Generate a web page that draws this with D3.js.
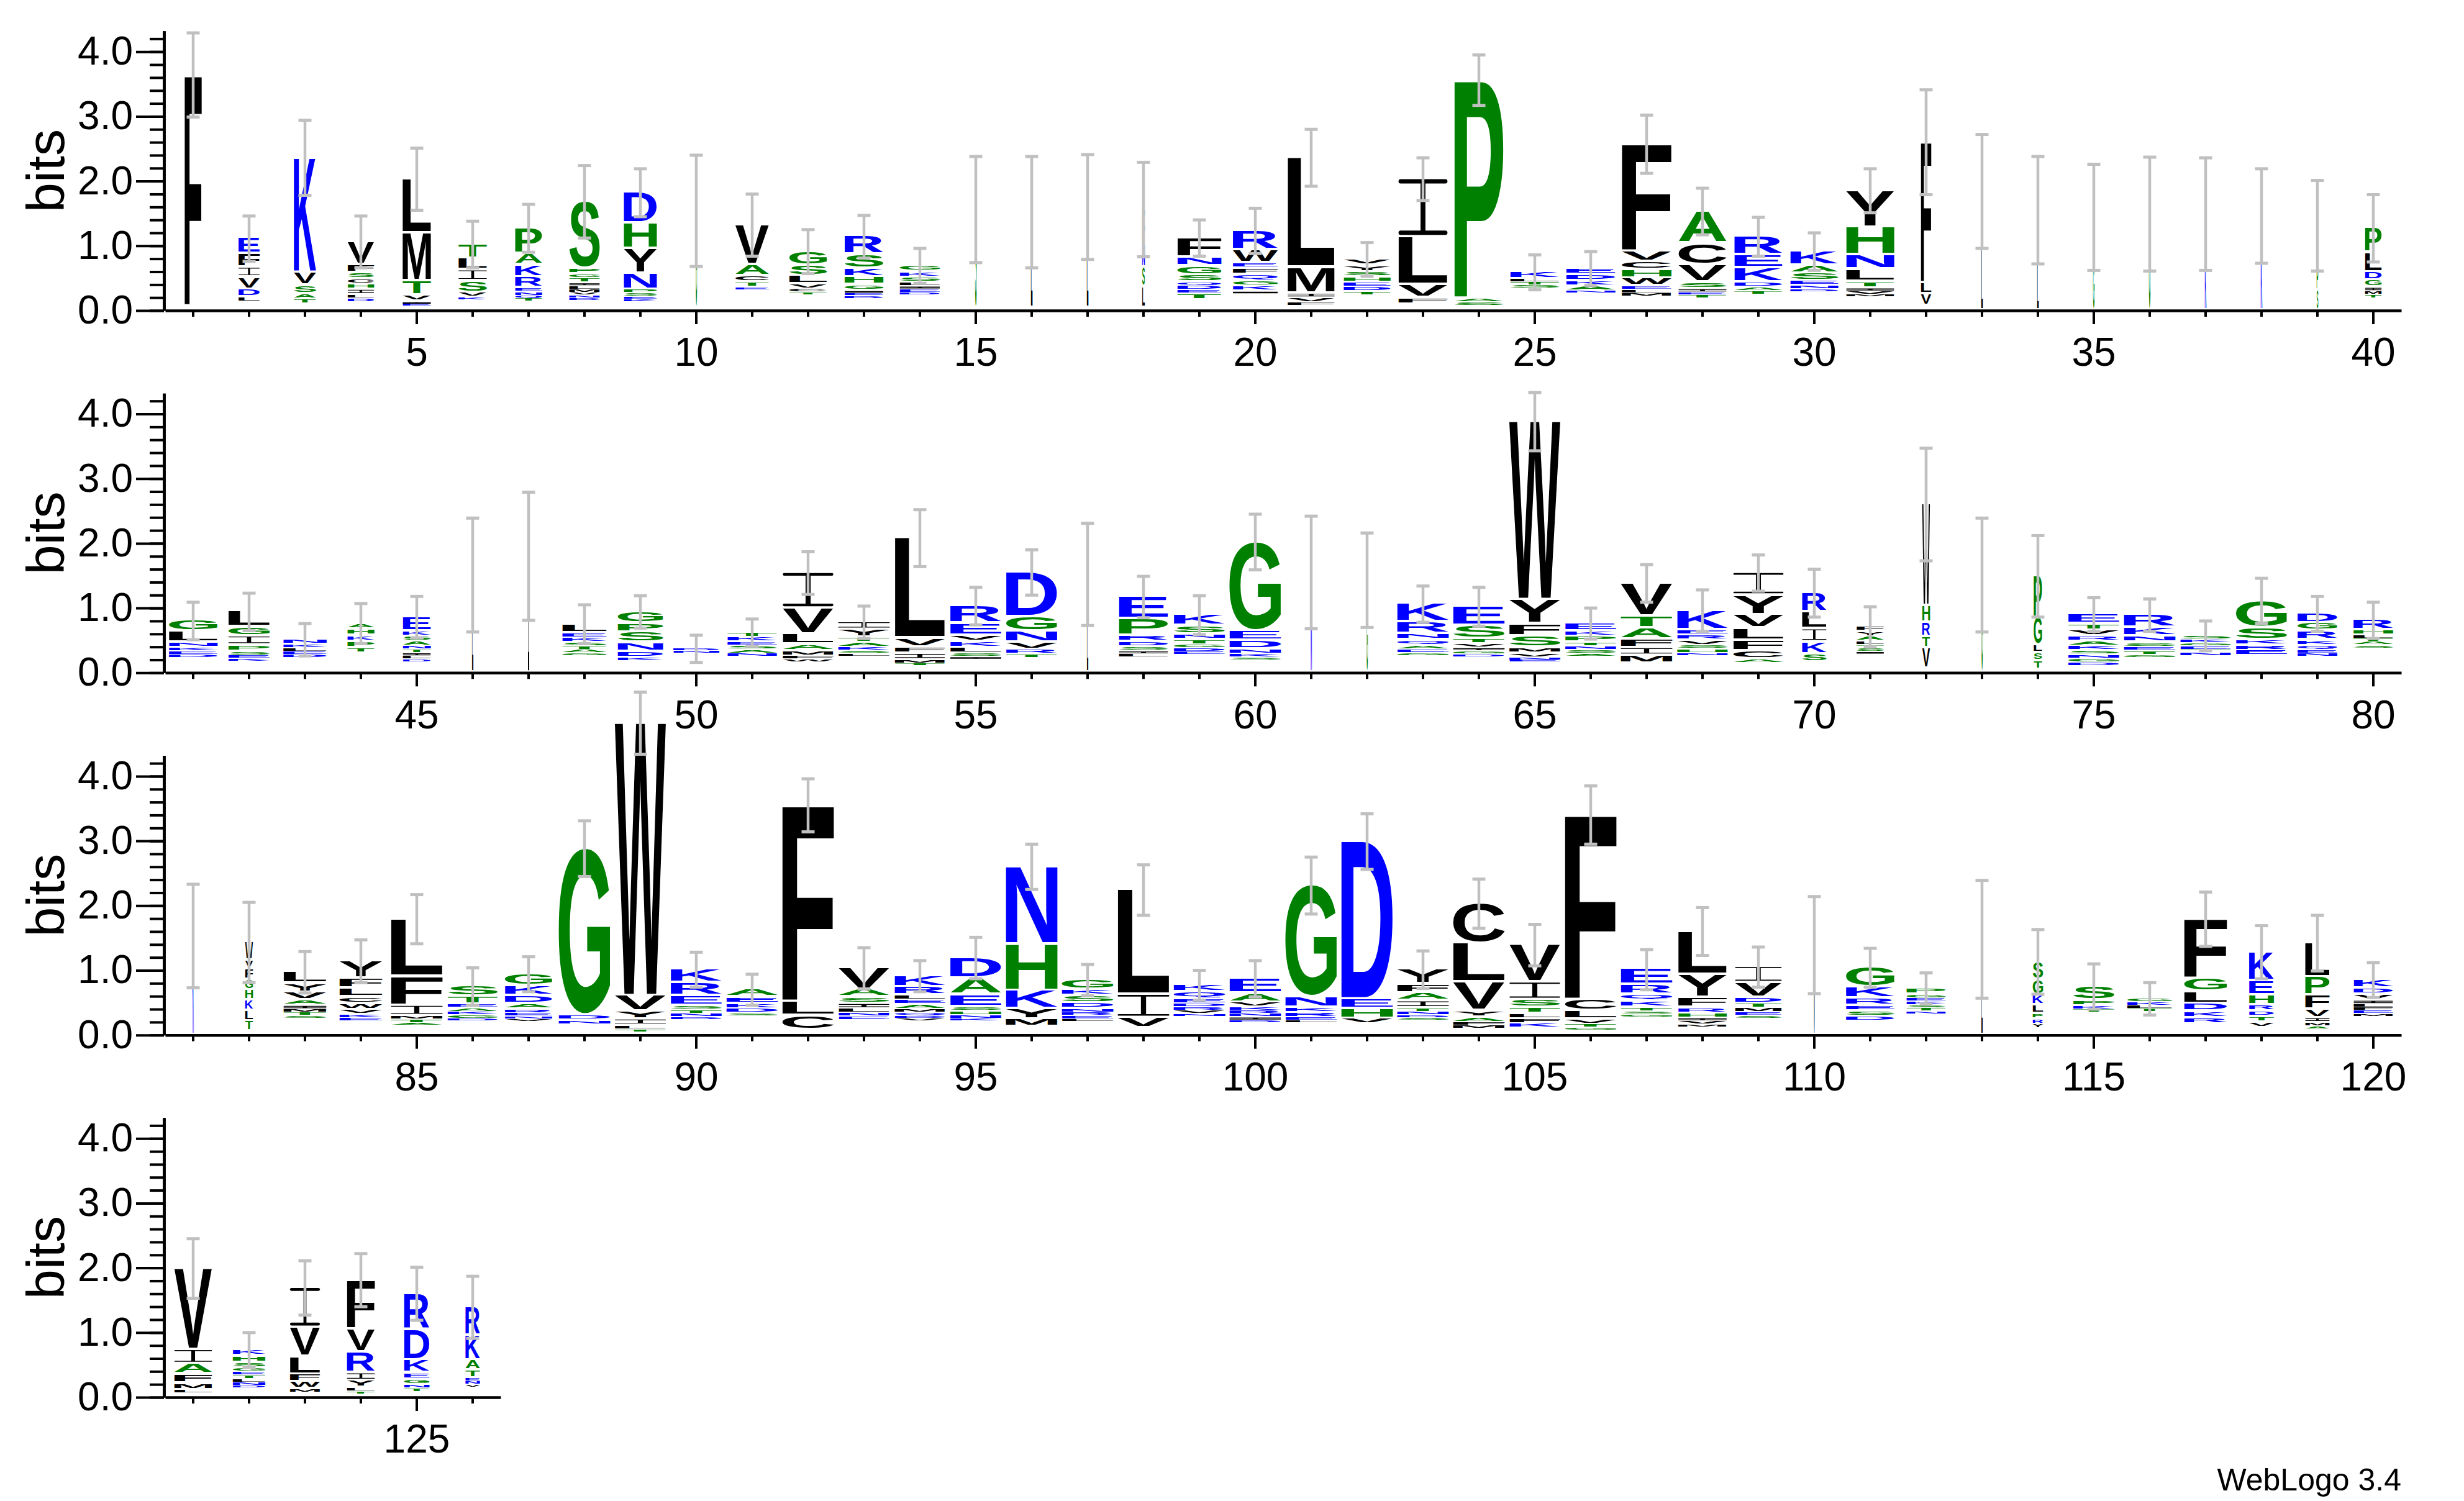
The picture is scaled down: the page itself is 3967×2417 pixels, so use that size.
<!DOCTYPE html>
<html>
<head>
<meta charset="utf-8">
<script src="https://cdn.jsdelivr.net/npm/d3@7"></script>
<style>
body { margin: 0; background: #fff; }
svg { display: block; }
</style>
</head>
<body>
<div id="logo"></div>
<script>

// positions 1..126, letters listed top to bottom, "_" = tiny letters not drawn
var positions = d3.range(1, 127);

var stackLetters = [
  "F_", "EFIVDL_", "KVSAT_", "VFSCHILD_", "LMTVIE_", "TLISVK_", "PAKRENQT_", "SPGTILMVND_", "DHYNPSEK_", "G_",
  "VACTE_", "GSLVCT_", "RSKHGIED_", "GKSLIED_", "DS_", "L_", "KL_", "FNSL_", "FNGSQDET_", "RWEFQGKI_",
  "LMIVF_", "VYSHEDT_", "ILVF_", "PAS_", "KLTS_", "EDKAN_", "FVCHWELM_", "ACVSIET_", "REKDAT_", "KASEND_",
  "YHNLTIVM_", "FLV_", "GL", "SL", "LG", "G", "VK", "NK", "IPS", "PLDGIMT_",
  "GLNKED_", "LGIPSEK_", "NKLED_", "AHKPT_", "EKSANTILD_", "L", "L", "LEKSTAG_", "GPSNDK_", "DN_",
  "TKESAN_", "IVLAMFW_", "IYTAKSL_", "LVFIMT_", "REVKLSI_", "DGNVRT_", "NL", "EPRDSIL_", "KSNTGDE_", "GEDNKS_",
  "N", "KG", "KRNQAEG_", "ESTVIGD_", "WYFSMVNE_", "EKPTNSA_", "VTAFIM_", "KERVSHN_", "IYVLFCA_", "RLIKS_",
  "FYALTSI_", "WHRTV_", "G", "PGLST_", "ETVRAKSNGD_", "RKNSETG_", "SKGETN_", "GSKRE_", "DGRKQEN_", "RHLTAS_",
  "K", "WVFGHKLT_", "LYVAIMTS_", "YFLCWVKE_", "LFIMTA_", "STEAKGD_", "GKDARENV_", "GDN_", "WVYILT_", "KRESTND_",
  "AEKDS_", "FLC_", "VASILNE_", "KRLEAMQDV_", "DAESHNK_", "NHKYM_", "GKSDNREL_", "LIV_", "KQEDRVN_", "EAVKRNID_",
  "GNKREL_", "DEHV_", "YFAITNDS_", "CLVYAFM_", "VISTLFK_", "FCLVTG_", "ERQKTSG_", "LYFRHIVM_", "IVDTMES_", "SV",
  "GKRESD_", "PGEKSTN_", "L", "SGKLPRY_", "SPKT_", "GKLT_", "FGLDKR_", "KEHRDTV_", "LPFVIMA_", "KDVILFEM_",
  "VIAFML_", "KHSGETLND_", "IVLFWM_", "FVRIYLT_", "RDKEGNT_", "RKATENV_"
];

var stackHeights = [
  [3.58,.06], [.24,.21,.15,.19,.12,.08,.12], [1.78,.2,.13,.08,.08,.09], [.36,.12,.1,.08,.08,.08,.06,.06,.12],
  [.84,.74,.22,.1,.04,.03,.06], [.22,.18,.17,.18,.07,.04,.16], [.4,.17,.19,.17,.06,.06,.04,.05,.13],
  [1.04,.08,.07,.07,.05,.05,.05,.04,.04,.04,.15], [.48,.39,.38,.25,.06,.05,.04,.04,.13], [1.5,.04],
  [.62,.17,.1,.08,.04,.31], [.22,.16,.13,.07,.06,.04,.23], [.28,.22,.13,.12,.09,.04,.04,.04,.18],
  [.1,.08,.08,.06,.05,.05,.04,.23], [.1,1.42,.04], [1.48,.04], [.1,1.46,.04], [.55,.35,.3,.32,.04],
  [.3,.14,.14,.11,.05,.07,.06,.1,.15], [.3,.2,.08,.1,.1,.08,.08,.04,.25],
  [1.7,.4,.07,.07,.05,.07], [.1,.1,.08,.08,.07,.07,.06,.23], [.9,.74,.2,.1,.09], [3.38,.06,.06,.06],
  [.11,.05,.05,.05,.33], [.1,.1,.08,.07,.04,.26], [1.66,.16,.13,.13,.12,.06,.05,.05,.21],
  [.5,.33,.27,.1,.06,.04,.05,.18], [.29,.2,.22,.08,.06,.05,.24], [.22,.12,.12,.07,.06,.04,.28],
  [.57,.43,.22,.19,.1,.05,.05,.04,.2], [2.18,.17,.18,.07], [.9,.94], [.85,.7], [.7,.74], [1.49],
  [.75,.74], [.6,.86], [.6,.4,.31], [.38,.3,.13,.11,.06,.05,.06,.18],
  [.17,.17,.08,.06,.05,.05,.22], [.24,.14,.14,.1,.06,.05,.04,.17], [.08,.06,.05,.05,.05,.22],
  [.09,.1,.09,.1,.08,.3], [.22,.08,.08,.07,.06,.05,.05,.05,.04,.16], [1.51], [1.8],
  [.14,.08,.07,.06,.05,.05,.04,.26], [.18,.14,.16,.14,.09,.06,.17], [.04,.04,.29],
  [.08,.07,.06,.06,.06,.05,.24], [.55,.4,.16,.1,.08,.05,.04,.16], [.12,.12,.08,.07,.05,.05,.04,.25],
  [1.55,.14,.1,.1,.05,.04,.1], [.27,.19,.1,.09,.09,.05,.04,.2], [.69,.23,.17,.11,.07,.06,.22], [.3,1.22],
  [.34,.26,.1,.08,.06,.05,.05,.23], [.17,.13,.09,.07,.06,.05,.05,.27], [1.38,.15,.13,.08,.05,.04,.19],
  [1.55], [.35,1.08], [.28,.18,.1,.09,.06,.05,.05,.25], [.3,.2,.08,.06,.05,.05,.04,.24],
  [2.76,.37,.19,.18,.09,.06,.04,.03,.16], [.12,.08,.1,.06,.06,.05,.04,.25], [.51,.19,.17,.13,.12,.12,.14],
  [.3,.08,.09,.07,.06,.06,.04,.26], [.35,.3,.21,.19,.16,.13,.05,.15], [.3,.26,.2,.19,.12,.16],
  [.08,.08,.07,.06,.05,.05,.04,.28], [1.57,.26,.22,.17,.32,.06], [1.51], [.64,.43,.12,.13,.13,.04],
  [.15,.1,.09,.08,.07,.07,.07,.06,.06,.05,.1], [.2,.13,.1,.07,.06,.06,.05,.22], [.07,.05,.05,.05,.05,.05,.25],
  [.42,.19,.08,.08,.09,.25], [.15,.12,.14,.09,.07,.05,.05,.24], [.16,.07,.06,.05,.05,.05,.37],
  [1.53], [.28,.14,.16,.16,.16,.16,.16,.16,.05], [.18,.14,.12,.08,.06,.05,.05,.04,.25],
  [.27,.15,.14,.1,.1,.07,.05,.05,.21], [.89,.45,.16,.06,.05,.04,.14], [.16,.12,.06,.06,.05,.05,.04,.21],
  [.19,.15,.12,.09,.06,.05,.04,.04,.2], [2.58,.08,.06,.16], [4.22,.24,.12,.1,.06,.04,.04],
  [.21,.2,.15,.07,.06,.05,.04,.23],
  [.12,.1,.08,.07,.05,.28], [3.04,.22,.22,.07], [.33,.12,.1,.08,.07,.05,.05,.23],
  [.17,.13,.07,.08,.07,.05,.05,.04,.03,.22], [.32,.25,.19,.07,.06,.05,.04,.21], [1.2,.72,.28,.16,.12,.12],
  [.15,.1,.11,.09,.06,.05,.05,.04,.2], [1.62,.36,.16,.1], [.11,.11,.07,.06,.05,.05,.04,.28],
  [.23,.14,.07,.06,.05,.05,.05,.04,.18],
  [1.73,.16,.08,.07,.05,.04,.18], [2.44,.15,.15,.09,.16], [.23,.14,.12,.11,.06,.05,.04,.04,.22],
  [.62,.6,.44,.1,.08,.05,.05,.09], [.58,.27,.12,.1,.08,.07,.07,.1], [2.86,.17,.13,.08,.05,.04,.07],
  [.24,.15,.1,.1,.06,.05,.04,.27], [.67,.36,.15,.09,.07,.05,.05,.04,.12], [.25,.23,.09,.07,.07,.05,.04,.25],
  [.4,.99],
  [.31,.17,.11,.09,.08,.07,.21], [.1,.06,.05,.05,.05,.05,.04,.32], [1.48], [.28,.24,.15,.14,.08,.08,.07,.09],
  [.22,.09,.05,.05,.34], [.06,.05,.05,.05,.35], [.92,.2,.19,.12,.1,.1,.16], [.45,.22,.15,.1,.08,.09,.08,.11],
  [.53,.28,.22,.13,.07,.06,.04,.09], [.13,.1,.09,.06,.05,.05,.05,.04,.28],
  [1.26,.22,.16,.14,.1,.05,.06], [.1,.1,.08,.06,.06,.06,.05,.05,.03,.14], [.62,.45,.27,.12,.11,.05,.07],
  [.76,.36,.32,.12,.11,.06,.04,.04], [.56,.47,.2,.1,.08,.06,.05,.08], [.44,.38,.16,.12,.05,.05,.04,.15]
];

// stack width as a fraction of a full column (gap-weighted)
var stackWidths = [
  .33,.41,.43,.51,.55,.55,.52,.59,.64,.02, .65,.73,.75,.78,.03,.03,.03,.05,.85,.87,
  .91,.91,.95,.95,.95,.95,.96,.93,.93,.93, .93,.2,.03,.03,.03,.03,.03,.03,.03,.32,
  .94,.8,.84,.52,.54,.02,.02,.86,.88,.89, .96,.98,1,.97,.99,.99,.02,.95,.99,1,
  .02,.02,1,1,.99,.99,1,.98,.97,.47, .53,.15,.02,.16,.99,1,.98,.99,.77,.77,
  .02,.15,.83,.83,1,.97,.92,1,.99,.99, 1,1,.98,.98,.99,1,1,1,1,1,
  1,1,1,1,.98,1,1,.94,.9,.02, .94,.76,.02,.2,.8,.87,.83,.48,.47,.76,
  .73,.63,.58,.54,.49,.28
];

// half length of the error bar, bits
var errorBars = [
  .65,.35,.58,.4,.48,.36,.37,.56,.37,.86, .48,.34,.33,.27,.82,.86,.81,.73,.28,.35,
  .44,.26,.33,.39,.27,.26,.45,.36,.3,.29, .34,.81,.88,.83,.82,.88,.87,.73,.7,.52,
  .29,.29,.25,.31,.32,.88,.99,.3,.25,.21, .21,.33,.25,.44,.29,.35,.79,.32,.3,.43,
  .87,.73,.28,.3,.45,.24,.29,.32,.28,.37, .31,.87,.88,.63,.26,.25,.23,.35,.27,.28,
  .8,.62,.32,.33,.38,.29,.27,.43,.48,.27, .24,.41,.32,.24,.32,.35,.24,.39,.23,.28,
  .44,.43,.29,.38,.32,.45,.31,.37,.31,.75, .3,.24,.91,.5,.35,.25,.42,.41,.43,.27,
  .46,.27,.42,.41,.41,.48
];

var yTicks = [0, 1, 2, 3, 4];

var width = 3967, height = 2417;
var perRow = 40, colWidth = 90, stackFull = 83;
var rowBase = [500, 1083.3, 1666.7, 2250];
var plotLeft = 266, pxPerBit = 104.2, maxBits = 4.32;

var colorOf = function(a) {
  if ("RKDENQ".indexOf(a) >= 0) return "#0000ff";
  if ("SGHTAP".indexOf(a) >= 0) return "#008000";
  return "#000000";
};

// ink box of each glyph, so letters can be stretched to fill their box
var ctx = document.createElement("canvas").getContext("2d");
var glyphs = {};
function glyph(a) {
  if (!glyphs[a]) {
    ctx.font = "bold 200px 'Liberation Sans'";
    var m = ctx.measureText(a);
    glyphs[a] = {l: m.actualBoundingBoxLeft, r: m.actualBoundingBoxRight,
                 a: m.actualBoundingBoxAscent, d: m.actualBoundingBoxDescent};
  }
  return glyphs[a];
}

// weblogo draws I with serifs: two bars and a thin stem
function drawI(g, x0, y0, w, h, col) {
  var bar = Math.max(1.2, Math.min(7, h * 0.08));
  var stem = Math.max(1.2, w * 0.1);
  g.append("rect").attr("x", x0).attr("y", y0).attr("width", w).attr("height", bar)
    .attr("rx", bar / 2).attr("fill", col);
  g.append("rect").attr("x", x0).attr("y", y0 + h - bar).attr("width", w).attr("height", bar)
    .attr("rx", bar / 2).attr("fill", col);
  g.append("rect").attr("x", x0 + w / 2 - stem / 2).attr("y", y0 + bar / 2).attr("width", stem)
    .attr("height", Math.max(0, h - bar)).attr("fill", col);
}

var svg = d3.select("#logo").append("svg")
  .attr("width", width)
  .attr("height", height)
  .style("background", "#fff");

d3.range(4).forEach(function(r) {
  var rowPos = positions.slice(r * perRow, (r + 1) * perRow);
  var base = rowBase[r];

  var x = d3.scaleBand()
    .domain(rowPos)
    .range([plotLeft, plotLeft + rowPos.length * colWidth]);

  var y = d3.scaleLinear()
    .domain([0, maxBits])
    .range([base, base - maxBits * pxPerBit]);

  var row = svg.append("g").attr("class", "row");

  // letter stacks
  rowPos.forEach(function(p) {
    var i = p - 1;
    var letters = stackLetters[i], hs = stackHeights[i];
    var sw = Math.max(2, stackFull * stackWidths[i]);
    var cx = x(p) + x.bandwidth() / 2;
    var cum = d3.sum(hs);
    for (var k = 0; k < letters.length; k++) {
      var a = letters[k], h = hs[k];
      var top = y(cum), bot = y(cum - h);
      cum -= h;
      if (a == "_") continue;
      var bh = bot - top;
      var ink = bh - Math.min(4, bh * 0.4);
      if (ink < 0.6) continue;
      if (a == "I") {
        drawI(row, cx - sw / 2, top, sw, ink, colorOf(a));
        continue;
      }
      var g = glyph(a);
      var sx = sw / (g.l + g.r), sy = ink / (g.a + g.d);
      row.append("text")
        .attr("font-family", "Liberation Sans")
        .attr("font-weight", "bold")
        .attr("font-size", 200)
        .attr("fill", colorOf(a))
        .attr("transform", "translate(" + (cx - sw / 2 + g.l * sx) + "," + (top + g.a * sy) + ") scale(" + sx + "," + sy + ")")
        .text(a);
    }
  });

  // error bars
  var bars = row.selectAll(".err")
    .data(rowPos)
    .enter().append("g")
    .attr("class", "err")
    .attr("stroke", "#c0c0c0");

  bars.each(function(p) {
    var i = p - 1;
    var cx = x(p) + x.bandwidth() / 2;
    var top = d3.sum(stackHeights[i]);
    var y1 = y(top + errorBars[i]), y2 = y(top - errorBars[i]);
    var b = d3.select(this);
    b.append("line").attr("x1", cx).attr("x2", cx).attr("y1", y1).attr("y2", y2).attr("stroke-width", 4.5);
    b.append("line").attr("x1", cx - 10.5).attr("x2", cx + 10.5).attr("y1", y1).attr("y2", y1).attr("stroke-width", 5);
    b.append("line").attr("x1", cx - 10.5).attr("x2", cx + 10.5).attr("y1", y2).attr("y2", y2).attr("stroke-width", 5);
  });

  // y axis, minor then major ticks
  var yMinor = d3.axisLeft(y)
    .tickValues(d3.range(0, 4.31, 0.2))
    .tickFormat("")
    .tickSize(23)
    .tickSizeOuter(0);

  var yMajor = d3.axisLeft(y)
    .tickValues(yTicks)
    .tickFormat(d3.format(".1f"))
    .tickSize(45)
    .tickPadding(5)
    .tickSizeOuter(0);

  row.append("g")
    .attr("class", "y minor")
    .attr("transform", "translate(264,0)")
    .call(yMinor);

  row.append("g")
    .attr("class", "y axis")
    .attr("transform", "translate(264,0)")
    .call(yMajor);

  // x axis, long ticks every fifth position
  var xAxis = d3.axisBottom(x)
    .tickSize(10)
    .tickSizeOuter(0)
    .tickFormat(function(d) { return d % 5 == 0 ? d : ""; });

  var xg = row.append("g")
    .attr("class", "x axis")
    .attr("transform", "translate(0," + base + ")")
    .call(xAxis);

  xg.selectAll(".tick line")
    .attr("y2", function(d) { return d % 5 == 0 ? 22 : 10; });
  xg.selectAll(".tick text")
    .attr("y", 44);

  row.append("text")
    .attr("transform", "translate(103," + (base - 225) + ") rotate(-90)")
    .attr("text-anchor", "middle")
    .attr("font-family", "Liberation Sans")
    .attr("font-size", 86)
    .text("bits");
});

svg.selectAll(".axis path, .minor path")
  .attr("stroke", "#000")
  .attr("stroke-width", 4.5);
svg.selectAll(".axis line, .minor line")
  .attr("stroke", "#000")
  .attr("stroke-width", 4);
svg.selectAll(".axis text")
  .attr("font-family", "Liberation Sans")
  .attr("font-size", 64)
  .attr("fill", "#000");

svg.append("text")
  .attr("x", 3866)
  .attr("y", 2400)
  .attr("text-anchor", "end")
  .attr("font-family", "Liberation Sans")
  .attr("font-size", 50)
  .text("WebLogo 3.4");

</script>
</body>
</html>
